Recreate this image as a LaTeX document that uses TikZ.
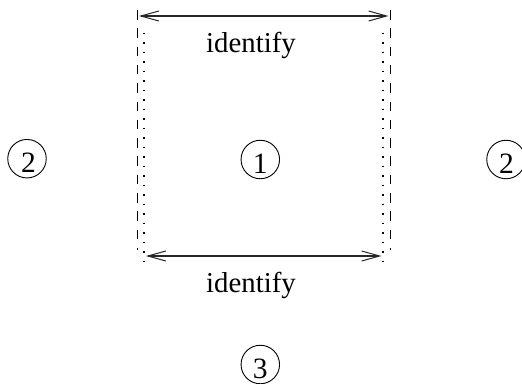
\documentclass[tikz,border=0pt]{standalone}
\usepackage{fontspec}
\setmainfont{Liberation Serif}
\usetikzlibrary{arrows.meta}
\newcommand\lowdigit[2][0pt]{\raisebox{-13.5pt}[0pt][0pt]{\makebox[0pt]{\hspace{#1}#2}}}
\tikzset{
  lbl/.style={inner sep=0pt,font=\fontsize{28.8}{32}\selectfont},
  num/.style={circle,draw,line width=0.9pt,minimum size=38.5pt,inner sep=0pt,font=\fontsize{29.5}{32}\selectfont},
  barb/.tip={Straight Barb[length=18pt,width=10pt,line width=1pt]},
  span/.style={line width=1.1pt,black!85,barb-barb},
  dashline/.style={line width=1pt,dash pattern=on 9.5pt off 8.8pt},
  dotline/.style={line width=1.6pt,dash pattern=on 1.5pt off 8pt}
}
\begin{document}
\begin{tikzpicture}[x=1pt,y=-1pt]
\useasboundingbox (0,0) rectangle (522,383);
\coordinate (dlt) at (137.5,10);
\coordinate (dlb) at (137.5,249.5);
\coordinate (drt) at (390,10);
\coordinate (drb) at (390,249.5);
\coordinate (plt) at (144,32.5);
\coordinate (plb) at (144,262);
\coordinate (prt) at (383,32.5);
\coordinate (prb) at (383,262);
\coordinate (tl) at (139,16);
\coordinate (tr) at (388.5,16);
\coordinate (bl) at (146,256);
\coordinate (br) at (381.5,256);
\draw[dashline] (dlt) -- (dlb);
\draw[dashline] (drt) -- (drb);
\draw[dotline] (plt) -- (plb);
\draw[dotline] (prt) -- (prb);
\draw[span] (tl) -- (tr);
\draw[span] (bl) -- (br);
\node[lbl] (id1) at (251,45.5) {identify};
\node[lbl] (id2) at (251,285.5) {identify};
\node[num] (n1) at (260.3,159.5) {\lowdigit{1}};
\node[num] (n2l) at (27,158.7) {\lowdigit[3pt]{2}};
\node[num] (n2r) at (506,159.5) {\lowdigit[1pt]{2}};
\node[num] (n3) at (260.3,364.5) {\lowdigit{3}};
\end{tikzpicture}
\end{document}
